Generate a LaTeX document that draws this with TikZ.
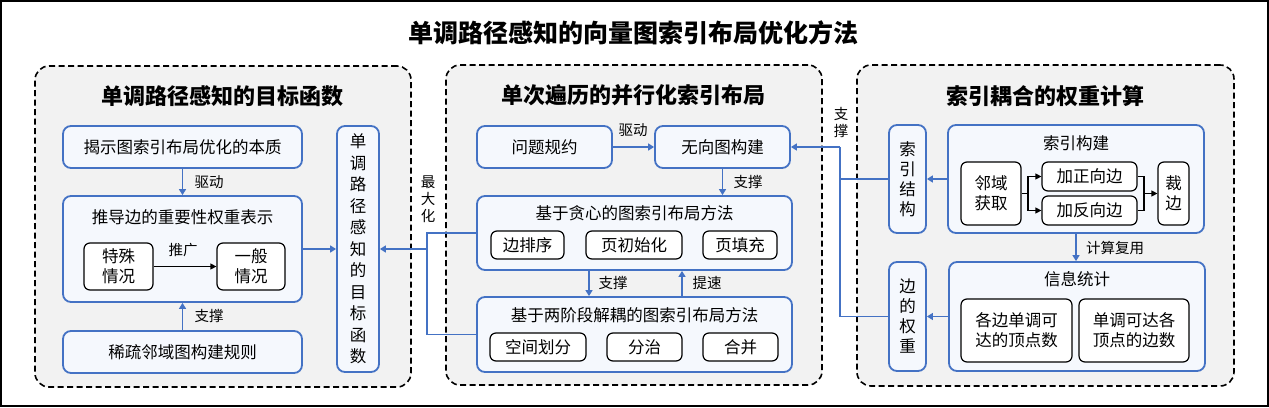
\documentclass[tikz,border=0pt]{standalone}
\usepackage{fontspec}
\setmainfont{Noto Sans CJK SC}
\usetikzlibrary{arrows.meta}
\definecolor{bl}{HTML}{4472C4}
\definecolor{pg}{HTML}{F2F2F2}
\definecolor{bf}{HTML}{F5F8FD}
\begin{document}
\begin{tikzpicture}[x=1pt,y=-1pt,
 panel/.style={draw=black,line width=1.6pt,dash pattern=on 6pt off 3.5pt,fill=pg,rounded corners=14pt,inner sep=0pt},
 bbox/.style={draw=bl,line width=1.8pt,fill=bf,rounded corners=8pt,inner sep=0pt,align=center,font=\fontsize{16.5}{20}\selectfont},
 ibox/.style={draw=black,line width=1.2pt,fill=white,rounded corners=6pt,inner sep=0pt,align=center,font=\fontsize{16.5}{20}\selectfont},
 txt/.style={font=\fontsize{16.5}{20}\selectfont,inner sep=0pt,align=center},
 lbl/.style={font=\fontsize{14.5}{17}\selectfont,inner sep=0pt,align=center},
 ptitle/.style={font=\fontsize{22}{26}\selectfont\bfseries,inner sep=0pt},
 conn/.style={draw=bl,line width=1.8pt},
 arr/.style={conn,-{Triangle[length=6pt,width=7pt]}},
 karr/.style={draw=black,line width=1.2pt,-{Triangle[length=6pt,width=6pt]}},
 kline/.style={draw=black,line width=1.2pt},
]
\useasboundingbox (0,0) rectangle (1269,407);
\draw[line width=2pt] (1,1) rectangle (1268,406);
\node[font=\fontsize{25}{30}\selectfont\bfseries,inner sep=0pt] (T) at (633,33) {单调路径感知的向量图索引布局优化方法};

% ---------- left panel
\node[panel,minimum width=376pt,minimum height=321pt] (P1) at (223,226.5) {};
\node[ptitle] (T1) at (222,96) {单调路径感知的目标函数};
\node[bbox,minimum width=239pt,minimum height=42pt] (A) at (182.5,147) {揭示图索引布局优化的本质};
\node[bbox,minimum width=239pt,minimum height=106pt] (B) at (182.5,249) {};
\node[txt] (Bt) at (182.5,217) {推导边的重要性权重表示};
\node[ibox,minimum width=69pt,minimum height=47pt] (B1) at (118.5,266.5) {特殊\\情况};
\node[ibox,minimum width=68pt,minimum height=47pt] (B2) at (251,266.5) {一般\\情况};
\node[bbox,minimum width=239pt,minimum height=42pt] (C) at (182.5,352) {稀疏邻域图构建规则};
\node[bbox,minimum width=42pt,minimum height=246pt,font=\fontsize{16.5}{21.5}\selectfont] (V) at (358,249) {单\\调\\路\\径\\感\\知\\的\\目\\标\\函\\数};
\draw[arr] (A) -- (B);
\node[lbl] (L1) at (209,182) {驱动};
\draw[arr] (C) -- (B);
\node[lbl] (L2) at (209,316) {支撑};
\draw[karr] (B1) -- (B2);
\node[lbl] (L3) at (183,250) {推广};
\draw[arr] (B.east) -- (V.west);

% ---------- middle panel
\node[panel,minimum width=376pt,minimum height=320pt] (P2) at (634,225) {};
\node[ptitle] (T2) at (633,95) {单次遍历的并行化索引布局};
\node[bbox,minimum width=135pt,minimum height=42pt] (D) at (544.5,147) {问题规约};
\node[bbox,minimum width=135pt,minimum height=42pt] (E) at (722.5,147) {无向图构建};
\node[bbox,minimum width=315pt,minimum height=74pt] (F) at (634.5,233) {};
\node[txt] (Ft) at (634.5,213) {基于贪心的图索引布局方法};
\node[ibox,minimum width=73pt,minimum height=28pt] (F1) at (527.5,245) {边排序};
\node[ibox,minimum width=96pt,minimum height=28pt] (F2) at (634,245) {页初始化};
\node[ibox,minimum width=74pt,minimum height=28pt] (F3) at (740,245) {页填充};
\node[bbox,minimum width=315pt,minimum height=75pt] (G) at (634.5,334.5) {};
\node[txt] (Gt) at (634.5,315) {基于两阶段解耦的图索引布局方法};
\node[ibox,minimum width=96pt,minimum height=28pt] (G1) at (538,347) {空间划分};
\node[ibox,minimum width=75pt,minimum height=28pt] (G2) at (644.5,347) {分治};
\node[ibox,minimum width=75pt,minimum height=28pt] (G3) at (740.5,347) {合并};
\draw[arr] (D) -- (E);
\node[lbl] (L4) at (633,130) {驱动};
\draw[arr] (E.south) -- (E.south |- F.north);
\node[lbl] (L5) at (748,182) {支撑};
\coordinate (fd) at (589,270);
\draw[arr] (F.south -| fd) -- (G.north -| fd);
\node[lbl] (L6) at (613,283) {支撑};
\coordinate (fu) at (682,270);
\draw[arr] (G.north -| fu) -- (F.south -| fu);
\node[lbl] (L7) at (707,283) {提速};
\coordinate (m1) at (427,233);
\coordinate (m2) at (427,334.5);
\coordinate (m3) at (427,249);
\draw[conn] (F.west) -- (m1) -- (m2) -- (G.west);
\draw[arr] (m3) -- (V.east);
\node[lbl,font=\fontsize{14.5}{17}\selectfont] (L8) at (428,199) {最\\大\\化};

% ---------- right panel
\node[panel,minimum width=377pt,minimum height=321pt] (P3) at (1045.5,225.5) {};
\node[ptitle] (T3) at (1045,96) {索引耦合的权重计算};
\node[bbox,minimum width=37pt,minimum height=108pt] (H) at (907.5,179) {索\\引\\结\\构};
\node[bbox,minimum width=256pt,minimum height=108pt] (I) at (1076,179) {};
\node[txt] (It) at (1076,143) {索引构建};
\node[ibox,minimum width=60pt,minimum height=63pt] (I1) at (991,193.5) {邻域\\获取};
\node[ibox,minimum width=95pt,minimum height=29pt] (I2) at (1089.5,176.5) {加正向边};
\node[ibox,minimum width=95pt,minimum height=29pt] (I3) at (1089.5,210.5) {加反向边};
\node[ibox,minimum width=31pt,minimum height=63pt] (I4) at (1173.5,193.5) {裁\\边};
\node[bbox,minimum width=37pt,minimum height=109pt] (J) at (907.5,316.5) {边\\的\\权\\重};
\node[bbox,minimum width=256pt,minimum height=109pt] (K) at (1077,316.5) {};
\node[txt] (Kt) at (1077,279) {信息统计};
\node[ibox,minimum width=111pt,minimum height=63pt] (K1) at (1016.5,330.5) {各边单调可\\达的顶点数};
\node[ibox,minimum width=110pt,minimum height=63pt] (K2) at (1134,330.5) {单调可达各\\顶点的边数};
\draw[arr] (I.west) -- (H.east);
\draw[arr] (K.west) -- (J.east);
\coordinate (cs) at (1076,233);
\draw[arr] (I.south -| cs) -- (K.north -| cs);
\node[lbl] (L9) at (1115,248) {计算复用};
% fork inside 索引构建
\coordinate (f1) at (1028,193.5);
\coordinate (f2) at (1144,193.5);
\draw[kline] (I1.east) -- (f1);
\draw[karr] (f1) |- (I2.west);
\draw[karr] (f1) |- (I3.west);
\draw[kline] (I2.east) -| (f2);
\draw[kline] (I3.east) -| (f2);
\draw[karr] (f2) -- (I4.west);
% feedback to 无向图构建
\coordinate (r1) at (840,147);
\coordinate (r2) at (840,179);
\coordinate (r3) at (840,316.5);
\draw[conn] (H.west) -- (r2);
\draw[conn] (J.west) -- (r3) -- (r1);
\draw[arr] (r1) -- (E.east);
\node[lbl] (L10) at (841,122) {支\\撑};
\end{tikzpicture}
\end{document}
